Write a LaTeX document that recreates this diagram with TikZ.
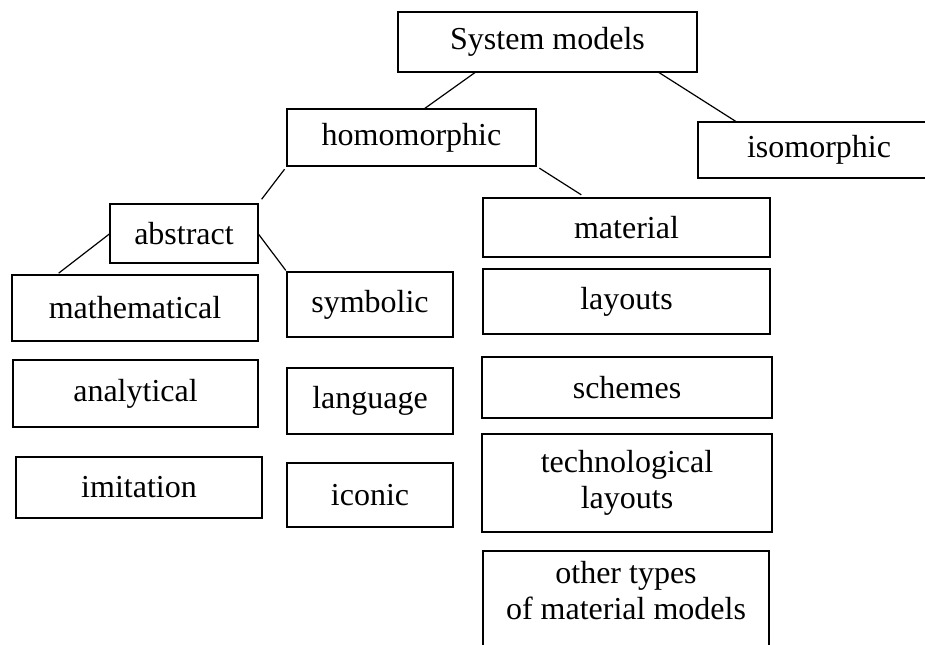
\documentclass[tikz,border=0pt]{standalone}
\usepackage{fontspec}
\setmainfont{Liberation Serif}
\usetikzlibrary{calc}

\begin{document}
\begin{tikzpicture}[x=0.5pt,y=-0.5pt,
  box/.style={draw,line width=1.3pt,inner sep=0pt,outer sep=0pt,align=center,
    font=\fontsize{16}{18}\selectfont},
  link/.style={line width=0.6pt}]
\useasboundingbox (0,0) rectangle (925,644);
\node[box,minimum width=149.5pt,minimum height=30pt] (sys) at (547.5,42) {System models};
\node[box,minimum width=124.5pt,minimum height=28.5pt] (homo) at (411.5,137.5) {homomorphic};
\node[box,minimum width=121pt,minimum height=28pt] (iso) at (819,150) {isomorphic};
\node[box,minimum width=74pt,minimum height=29.5pt] (abstr) at (184,233.5) {abstract};
\node[box,minimum width=123pt,minimum height=33pt] (math) at (135,308) {mathematical};
\node[box,minimum width=122.5pt,minimum height=33.5pt] (anal) at (135.5,393.5) {analytical};
\node[box,minimum width=123pt,minimum height=30.5pt] (imit) at (139,487.5) {imitation};
\node[box,minimum width=83pt,minimum height=32.5pt] (symb) at (370,304.5) {symbolic};
\node[box,minimum width=83pt,minimum height=33pt] (lang) at (370,401) {language};
\node[box,minimum width=83pt,minimum height=32pt] (icon) at (370,495) {iconic};
\node[box,minimum width=143.5pt,minimum height=29.5pt] (mater) at (626.5,227.5) {material};
\node[box,minimum width=143.5pt,minimum height=32.5pt] (layout) at (626.5,301.5) {layouts};
\node[box,minimum width=145pt,minimum height=30.5pt] (scheme) at (627,387.5) {schemes};
\node[box,minimum width=145pt,minimum height=49pt] (techno) at (627,483) {technological\\layouts};
\node[box,minimum width=143pt,minimum height=49pt,text depth=10pt] (other) at (626,600) {other types\\of material models};
\draw [link] ($(sys.south west)!0.26!(sys.south east)$) to ($(homo.north west)!0.55!(homo.north east)$);
\draw [link] ($(sys.south west)!0.87!(sys.south east)$) to ($(iso.north west)!0.16!(iso.north east)$);
\draw [link,shorten <=2pt,shorten >=3pt] (homo.south west) to (abstr.north east);
\draw [link,shorten <=2pt,shorten >=3pt] (homo.south east) to ($(mater.north west)!0.36!(mater.north east)$);
\draw [link,shorten >=1.5pt] (abstr.west) to ($(math.north west)!0.18!(math.north east)$);
\draw [link,shorten >=1pt] (abstr.east) to (symb.north west);
\end{tikzpicture}
\end{document}
